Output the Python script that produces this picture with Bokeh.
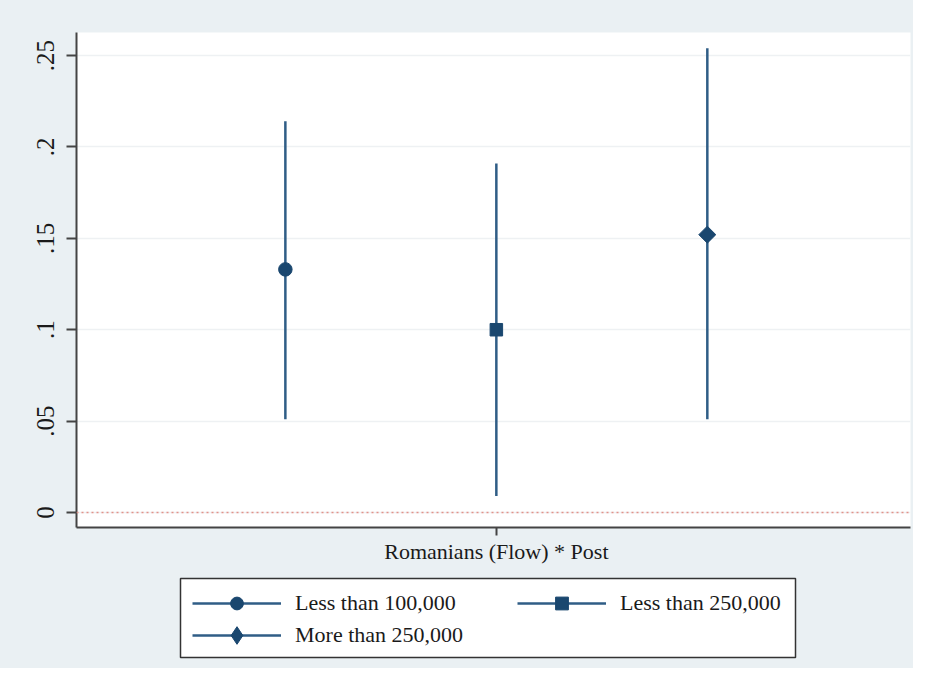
import math
from bokeh.plotting import figure
from bokeh.layouts import column
from bokeh.models import (ColumnDataSource, FixedTicker, Range1d, Span, Legend,
                          LegendItem, BoxAnnotation)
from bokeh.embed import file_html
from bokeh.resources import INLINE

# ---- data ----
groups = ["Less than 100,000", "Less than 250,000", "More than 250,000"]
x_pos = [1, 2, 3]
estimates = [0.133, 0.100, 0.152]
ci_low = [0.051, 0.009, 0.051]
ci_high = [0.214, 0.191, 0.254]
markers = ["circle", "square", "square"]
marker_angles = [0.0, 0.0, math.pi / 4]
marker_sizes = [13.5, 12.5, 12]
legend_markers = ["circle", "square", "diamond"]
x_tick_label = "Romanians (Flow) * Post"
y_ticks = [0, 0.05, 0.1, 0.15, 0.2, 0.25]
y_tick_labels = ["0", ".05", ".1", ".15", ".2", ".25"]

NAVY = "#1a476f"
LINE = "#2f5d86"
BG = "#eaf0f3"
W = 913
BL, BR = 76, 3  # shared left/right borders so both frames line up

sources = [ColumnDataSource(dict(x=[x_pos[i]], est=[estimates[i]],
                                 lo=[ci_low[i]], hi=[ci_high[i]]))
           for i in range(len(groups))]

# ---------------- main plot ----------------
p = figure(width=W, height=568, output_backend="svg", toolbar_location=None,
           x_range=Range1d(0.01, 3.963), y_range=Range1d(-0.0082, 0.2626),
           min_border_left=BL, min_border_top=32, min_border_right=BR,
           min_border_bottom=41)
p.background_fill_color = "white"
p.border_fill_color = BG
p.outline_line_color = None

p.xaxis.ticker = FixedTicker(ticks=[2])
p.xaxis.major_label_overrides = {2: x_tick_label}
p.xaxis.major_label_text_font = "Liberation Serif"
p.xaxis.major_label_text_font_size = "22px"
p.xaxis.major_label_text_color = "#1a1a1a"
p.xaxis.major_label_standoff = 3
p.xaxis.minor_tick_line_color = None
p.xaxis.major_tick_out = 8
p.xaxis.major_tick_in = 0

p.yaxis.ticker = FixedTicker(ticks=y_ticks)
p.yaxis.major_label_overrides = {t: l for t, l in zip(y_ticks, y_tick_labels)}
p.yaxis.major_label_orientation = "vertical"
p.yaxis.major_label_text_font = "Liberation Sans Narrow"
p.yaxis.major_label_text_font_size = "25px"
p.yaxis.major_label_text_color = "#1a1a1a"
p.yaxis.major_label_standoff = 12
p.yaxis.minor_tick_line_color = None
p.yaxis.major_tick_out = 10
p.yaxis.major_tick_in = 0

for ax in (p.xaxis, p.yaxis):
    ax.axis_line_color = "#444444"
    ax.axis_line_width = 2
    ax.major_tick_line_color = "#444444"
    ax.major_tick_line_width = 2

p.xgrid.grid_line_color = None
p.ygrid.grid_line_color = "#eef1f3"
p.ygrid.grid_line_width = 1.5

p.add_layout(Span(location=0, dimension="width", line_color="#e3928a",
                  line_width=1.5, line_dash="2 3"))

for i, g in enumerate(groups):
    p.segment(x0="x", y0="lo", x1="x", y1="hi", source=sources[i],
              line_color=LINE, line_width=2.5)
    p.scatter(x="x", y="est", source=sources[i], marker=markers[i],
              size=marker_sizes[i], angle=marker_angles[i],
              fill_color=NAVY, line_color=NAVY)

# ---------------- legend panel ----------------
# pixel-scaled ranges (1 unit = 1 px); the data glyphs fall outside and stay hidden
lg = figure(width=W, height=100, output_backend="svg", toolbar_location=None,
            x_range=Range1d(1000, 1000 + W - BL - BR), y_range=Range1d(1000, 1100),
            x_axis_location=None, y_axis_location=None,
            min_border_left=BL, min_border_right=BR,
            min_border_top=0, min_border_bottom=0)
lg.background_fill_color = None
lg.border_fill_color = None
lg.outline_line_color = None
lg.xgrid.grid_line_color = None
lg.ygrid.grid_line_color = None

lg.add_layout(BoxAnnotation(left=1104, right=1719, bottom=1011, top=1090,
                            fill_color="white", fill_alpha=1.0,
                            line_color="#333333", line_width=1.5, line_alpha=1.0))

leg_locs = [(116, 49), (441, 49), (116, 11)]
leg_heights = [32, 32, 44]
for i, g in enumerate(groups):
    seg = lg.segment(x0="x", y0="lo", x1="x", y1="hi", source=sources[i],
                     line_color=LINE, line_width=2.5)
    sc = lg.scatter(x="x", y="est", source=sources[i], marker=legend_markers[i],
                    size=marker_sizes[i], fill_color=NAVY, line_color=NAVY)
    leg = Legend(items=[LegendItem(label=g, renderers=[seg, sc])],
                 location=leg_locs[i], margin=0, padding=0, spacing=0,
                 glyph_width=89, glyph_height=leg_heights[i], label_standoff=14,
                 label_text_font="Liberation Serif", label_text_font_size="22px",
                 label_text_color="#1a1a1a",
                 border_line_color=None, background_fill_alpha=0)
    lg.add_layout(leg, "center")

layout = column(p, lg, spacing=0, styles={"background-color": BG})
open("out.html", "w").write(file_html(layout, INLINE))
